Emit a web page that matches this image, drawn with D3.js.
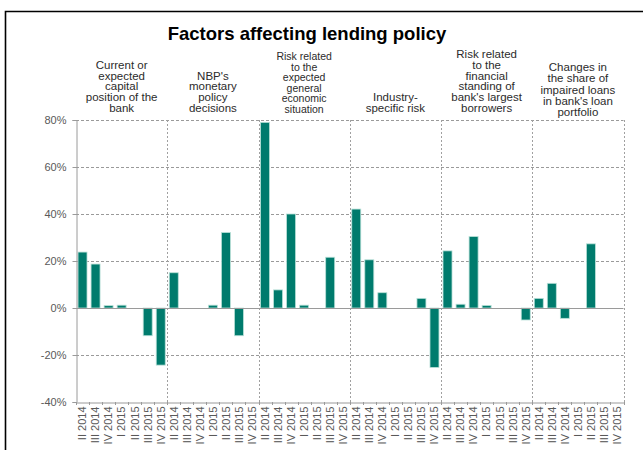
<!DOCTYPE html>
<html>
<head>
<meta charset="utf-8">
<script src="https://cdn.jsdelivr.net/npm/d3@7"></script>
<style>
  html, body { margin: 0; padding: 0; background: #fff; }
  svg { display: block; font-family: "Liberation Sans", Arial, sans-serif; }
</style>
</head>
<body>
<svg id="chart" width="643" height="450"></svg>
<script>
// Survey quarters shown under every factor group
const quarters = ["II 2014", "III 2014", "IV 2014", "I 2015", "II 2015", "III 2015", "IV 2015"];

// Factor names, one entry per line of the header
const factorLines = [
  ["Current or", "expected", "capital", "position of the", "bank"],
  ["NBP's", "monetary", "policy", "decisions"],
  ["Risk related", "to the", "expected", "general", "economic", "situation"],
  ["Industry-", "specific risk"],
  ["Risk related", "to the", "financial", "standing of", "bank's largest", "borrowers"],
  ["Changes in", "the share of", "impaired loans", "in bank's loan", "portfolio"]
];

// Net percentage of banks, per quarter, for each factor
const capitalPosition = [23.8, 18.7, 1.0, 1.2, 0, -11.8, -24.3];
const monetaryPolicy  = [15.0, 0, 0, 1.2, 32.1, -11.8, 0];
const economicRisk    = [79.0, 7.7, 40.0, 1.2, 0, 21.6, 0];
const industryRisk    = [42.1, 20.5, 6.5, 0, 0, 4.1, -25.3];
const borrowerRisk    = [24.3, 1.6, 30.4, 1.1, 0, 0, -5.1];
const impairedLoans   = [4.1, 10.5, -4.4, 0, 27.3, 0, 0];

const yTicks = [-40, -20, 0, 20, 40, 60, 80];

const seriesValues = [capitalPosition, monetaryPolicy, economicRisk, industryRisk, borrowerRisk, impairedLoans];

// Flat list of (group, quarter, value) records
const records = [];
seriesValues.forEach((vals, g) => {
  vals.forEach((v, q) => records.push({ key: g + "|" + q, group: g, quarter: quarters[q], value: v }));
});

const svg = d3.select("#chart");
const W = 643, H = 450;
const plot = { left: 76, right: 623.5, top: 120, bottom: 402 };

svg.append("rect").attr("width", W).attr("height", H).attr("fill", "#fff");

// Outer frame (left and top edges)
svg.append("path")
  .attr("d", `M5.5,${H} V11.5 H${W}`)
  .attr("fill", "none").attr("stroke", "#000").attr("stroke-width", 1.6);

// Title
svg.append("text")
  .attr("x", 307).attr("y", 40)
  .attr("text-anchor", "middle")
  .attr("font-size", 18.5).attr("font-weight", "bold").attr("fill", "#000")
  .text("Factors affecting lending policy");

const x = d3.scaleBand()
  .domain(records.map(d => d.key))
  .range([plot.left, plot.right])
  .paddingInner(0.31).paddingOuter(0.155);

const groupX = d3.scaleBand()
  .domain(d3.range(factorLines.length))
  .range([plot.left, plot.right]);

const y = d3.scaleLinear().domain([-40, 80]).range([plot.bottom, plot.top]);

// Horizontal dashed gridlines
svg.append("g").selectAll("line")
  .data(yTicks.filter(t => t !== 0 && t !== -40))
  .join("line")
  .attr("x1", plot.left).attr("x2", plot.right)
  .attr("y1", d => Math.round(y(d)) + 0.5).attr("y2", d => Math.round(y(d)) + 0.5)
  .attr("stroke", "#9a9a9a").attr("stroke-width", 1).attr("stroke-dasharray", "3,2");

// Vertical dotted separators between factor groups
svg.append("g").selectAll("line")
  .data(d3.range(1, factorLines.length + 1))
  .join("line")
  .attr("x1", d => Math.round(groupX(d - 1) + groupX.bandwidth()) + 0.5)
  .attr("x2", d => Math.round(groupX(d - 1) + groupX.bandwidth()) + 0.5)
  .attr("y1", plot.top).attr("y2", plot.bottom)
  .attr("stroke", "#a0a0a0").attr("stroke-width", 1).attr("stroke-dasharray", "2,2");

// Bars
svg.append("g").selectAll("rect")
  .data(records.filter(d => d.value !== 0))
  .join("rect")
  .attr("x", d => x(d.key))
  .attr("width", x.bandwidth())
  .attr("y", d => y(Math.max(0, d.value)))
  .attr("height", d => Math.abs(y(d.value) - y(0)))
  .attr("fill", "#007b6d")
  .attr("stroke", "#b9e0d8").attr("stroke-width", 0.8);

// Zero line
svg.append("line")
  .attr("x1", plot.left).attr("x2", plot.right)
  .attr("y1", Math.round(y(0)) + 0.5).attr("y2", Math.round(y(0)) + 0.5)
  .attr("stroke", "#9a9a9a").attr("stroke-width", 1);

// Y axis
const yAxis = svg.append("g")
  .attr("transform", `translate(${plot.left + 0.5},0)`)
  .call(d3.axisLeft(y).tickValues(yTicks).tickFormat(d => d + "%").tickSize(4).tickPadding(6));
yAxis.select(".domain").attr("stroke", "#9a9a9a");
yAxis.selectAll(".tick line").attr("stroke", "#9a9a9a");
yAxis.selectAll(".tick text")
  .attr("font-family", "'Liberation Sans', Arial, sans-serif")
  .attr("font-size", 11).attr("fill", "#595959");

// X axis with rotated quarter labels
const xAxis = svg.append("g")
  .attr("transform", `translate(0,${Math.round(plot.bottom) + 0.5})`)
  .call(d3.axisBottom(x).tickFormat(k => records.find(r => r.key === k).quarter).tickSize(0).tickPadding(4));
xAxis.select(".domain").attr("stroke", "#9a9a9a");
xAxis.selectAll(".tick text")
  .attr("font-family", "'Liberation Sans', Arial, sans-serif")
  .attr("font-size", 11).attr("fill", "#595959")
  .attr("text-anchor", "end")
  .attr("dy", "0.35em")
  .attr("transform", "rotate(-90)")
  .attr("x", -4).attr("y", 0);

// Small tick marks at quarter boundaries
svg.append("g").selectAll("line")
  .data(d3.range(records.length + 1))
  .join("line")
  .attr("x1", d => Math.round(plot.left + d * (plot.right - plot.left) / records.length) + 0.5)
  .attr("x2", d => Math.round(plot.left + d * (plot.right - plot.left) / records.length) + 0.5)
  .attr("y1", plot.bottom).attr("y2", plot.bottom + 3)
  .attr("stroke", "#9a9a9a");

// Factor headers above each group
const headerLayout = [
  { fs: 11.5, lh: 10.8, bottom: 112 }, { fs: 11.5, lh: 10.8, bottom: 112 }, { fs: 10.5, lh: 10.6, bottom: 113 },
  { fs: 11.5, lh: 10.8, bottom: 112 }, { fs: 11.5, lh: 10.8, bottom: 112 }, { fs: 11.5, lh: 11.2, bottom: 116 }
];
const headers = svg.append("g")
  .attr("fill", "#2b2b2b").attr("text-anchor", "middle");
factorLines.forEach((lines, g) => {
  const cx = groupX(g) + groupX.bandwidth() / 2;
  const L = headerLayout[g];
  const t = headers.append("text").attr("font-size", L.fs);
  lines.forEach((ln, i) => {
    t.append("tspan")
      .attr("x", cx)
      .attr("y", L.bottom - (lines.length - 1 - i) * L.lh)
      .text(ln);
  });
});
</script>
</body>
</html>
